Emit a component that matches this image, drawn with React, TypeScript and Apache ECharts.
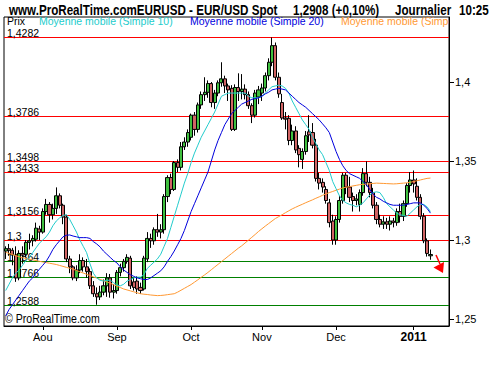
import React, { useEffect, useRef } from "react";
import * as echarts from "echarts";

const FONT = '"Liberation Sans", Arial, Helvetica, sans-serif';

// Trading days shown (weekdays), plus a few empty future slots at the right
const FIRST_DAY = "2010-07-16";
const LAST_SLOT = "2011-01-17";

const MONTH_LABELS: Record<string, string> = {
  "08": "Aou",
  "09": "Sep",
  "10": "Oct",
  "11": "Nov",
  "12": "Dec",
  "01": "2011",
};

// [open, close, low, high]
const CANDLES: number[][] = [
  [1.2930, 1.2945, 1.2880, 1.2960],
  [1.2945, 1.2935, 1.2900, 1.2975],
  [1.2935, 1.2905, 1.2840, 1.2950],
  [1.2905, 1.2760, 1.2735, 1.2960],
  [1.2760, 1.2915, 1.2745, 1.2935],
  [1.2915, 1.2905, 1.2850, 1.2960],
  [1.2910, 1.2985, 1.2890, 1.3000],
  [1.2985, 1.2995, 1.2940, 1.3040],
  [1.2995, 1.3010, 1.2960, 1.3030],
  [1.3005, 1.3075, 1.2990, 1.3110],
  [1.3070, 1.3050, 1.3000, 1.3090],
  [1.3050, 1.3180, 1.3040, 1.3200],
  [1.3180, 1.3225, 1.3160, 1.3260],
  [1.3225, 1.3160, 1.3110, 1.3240],
  [1.3160, 1.3200, 1.3130, 1.3230],
  [1.3200, 1.3280, 1.3165, 1.3333],
  [1.3280, 1.3220, 1.3200, 1.3295],
  [1.3220, 1.3145, 1.3100, 1.3230],
  [1.3145, 1.2880, 1.2860, 1.3160],
  [1.2880, 1.2830, 1.2790, 1.2900],
  [1.2830, 1.2760, 1.2745, 1.2840],
  [1.2760, 1.2810, 1.2740, 1.2840],
  [1.2810, 1.2870, 1.2790, 1.2910],
  [1.2870, 1.2830, 1.2800, 1.2890],
  [1.2830, 1.2800, 1.2760, 1.2880],
  [1.2800, 1.2710, 1.2690, 1.2820],
  [1.2710, 1.2660, 1.2640, 1.2740],
  [1.2660, 1.2640, 1.2590, 1.2700],
  [1.2640, 1.2670, 1.2620, 1.2710],
  [1.2670, 1.2710, 1.2650, 1.2750],
  [1.2710, 1.2760, 1.2640, 1.2790],
  [1.2760, 1.2670, 1.2635, 1.2785],
  [1.2670, 1.2680, 1.2630, 1.2720],
  [1.2680, 1.2795, 1.2660, 1.2810],
  [1.2795, 1.2825, 1.2770, 1.2850],
  [1.2825, 1.2865, 1.2800, 1.2880],
  [1.2865, 1.2890, 1.2850, 1.2910],
  [1.2885, 1.2710, 1.2690, 1.2900],
  [1.2735, 1.2700, 1.2680, 1.2760],
  [1.2740, 1.2690, 1.2660, 1.2770],
  [1.2700, 1.2680, 1.2660, 1.2730],
  [1.2690, 1.2885, 1.2680, 1.2900],
  [1.2880, 1.3010, 1.2860, 1.3050],
  [1.3010, 1.2995, 1.2950, 1.3040],
  [1.2995, 1.3065, 1.2970, 1.3080],
  [1.3065, 1.3050, 1.3020, 1.3165],
  [1.3050, 1.3065, 1.3010, 1.3100],
  [1.3065, 1.3275, 1.3040, 1.3290],
  [1.3275, 1.3395, 1.3240, 1.3410],
  [1.3395, 1.3320, 1.3290, 1.3420],
  [1.3320, 1.3490, 1.3310, 1.3500],
  [1.3490, 1.3460, 1.3430, 1.3510],
  [1.3460, 1.3590, 1.3440, 1.3620],
  [1.3590, 1.3620, 1.3570, 1.3650],
  [1.3620, 1.3680, 1.3590, 1.3700],
  [1.3650, 1.3790, 1.3630, 1.3800],
  [1.3790, 1.3700, 1.3660, 1.3810],
  [1.3700, 1.3855, 1.3680, 1.3870],
  [1.3855, 1.3920, 1.3830, 1.3940],
  [1.3920, 1.3935, 1.3880, 1.4030],
  [1.3935, 1.3990, 1.3900, 1.4010],
  [1.3990, 1.3870, 1.3840, 1.4000],
  [1.3870, 1.3930, 1.3830, 1.3950],
  [1.3930, 1.3995, 1.3910, 1.4010],
  [1.3995, 1.4020, 1.3970, 1.4125],
  [1.4020, 1.3975, 1.3930, 1.4040],
  [1.3975, 1.3950, 1.3880, 1.3990],
  [1.3960, 1.3700, 1.3690, 1.3980],
  [1.3700, 1.3965, 1.3690, 1.3985],
  [1.3965, 1.3940, 1.3880, 1.4055],
  [1.3940, 1.3955, 1.3890, 1.4050],
  [1.3955, 1.3920, 1.3890, 1.3985],
  [1.3920, 1.3850, 1.3830, 1.3940],
  [1.3850, 1.3790, 1.3740, 1.3865],
  [1.3790, 1.3930, 1.3775, 1.3950],
  [1.3905, 1.3950, 1.3860, 1.3975],
  [1.3930, 1.3962, 1.3880, 1.3990],
  [1.3962, 1.4040, 1.3940, 1.4060],
  [1.4040, 1.4125, 1.4010, 1.4150],
  [1.4125, 1.4230, 1.4100, 1.4282],
  [1.4230, 1.4030, 1.4010, 1.4250],
  [1.4030, 1.3925, 1.3900, 1.4060],
  [1.3870, 1.3772, 1.3760, 1.3925],
  [1.3772, 1.3765, 1.3700, 1.3810],
  [1.3770, 1.3630, 1.3600, 1.3790],
  [1.3630, 1.3690, 1.3600, 1.3730],
  [1.3690, 1.3570, 1.3550, 1.3720],
  [1.3580, 1.3540, 1.3460, 1.3600],
  [1.3510, 1.3560, 1.3450, 1.3580],
  [1.3560, 1.3660, 1.3540, 1.3690],
  [1.3685, 1.3665, 1.3620, 1.3790],
  [1.3680, 1.3600, 1.3580, 1.3740],
  [1.3600, 1.3390, 1.3370, 1.3640],
  [1.3390, 1.3360, 1.3320, 1.3425],
  [1.3365, 1.3335, 1.3300, 1.3390],
  [1.3320, 1.3250, 1.3230, 1.3340],
  [1.3235, 1.3110, 1.3080, 1.3260],
  [1.3120, 1.3000, 1.2970, 1.3160],
  [1.3000, 1.3130, 1.2970, 1.3150],
  [1.3130, 1.3250, 1.3110, 1.3280],
  [1.3250, 1.3410, 1.3230, 1.3425],
  [1.3410, 1.3335, 1.3290, 1.3425],
  [1.3335, 1.3270, 1.3240, 1.3400],
  [1.3275, 1.3250, 1.3180, 1.3300],
  [1.3250, 1.3260, 1.3220, 1.3290],
  [1.3225, 1.3300, 1.3180, 1.3320],
  [1.3300, 1.3420, 1.3280, 1.3455],
  [1.3420, 1.3365, 1.3340, 1.3498],
  [1.3365, 1.3300, 1.3270, 1.3400],
  [1.3300, 1.3220, 1.3200, 1.3330],
  [1.3220, 1.3130, 1.3100, 1.3240],
  [1.3130, 1.3100, 1.3080, 1.3160],
  [1.3100, 1.3115, 1.3070, 1.3150],
  [1.3115, 1.3100, 1.3070, 1.3140],
  [1.3100, 1.3120, 1.3060, 1.3150],
  [1.3120, 1.3110, 1.3080, 1.3140],
  [1.3110, 1.3180, 1.3090, 1.3200],
  [1.3180, 1.3150, 1.3110, 1.3230],
  [1.3150, 1.3230, 1.3120, 1.3250],
  [1.3230, 1.3345, 1.3210, 1.3360],
  [1.3345, 1.3380, 1.3300, 1.3430],
  [1.3380, 1.3355, 1.3300, 1.3440],
  [1.3340, 1.3270, 1.3250, 1.3390],
  [1.3270, 1.3150, 1.3130, 1.3290],
  [1.3150, 1.2995, 1.2980, 1.3170],
  [1.2995, 1.2915, 1.2895, 1.3010],
  [1.2900, 1.2908, 1.2875, 1.2940],
];

const MA10: number[] = [
  1.268, 1.272, 1.276, 1.279, 1.281, 1.284, 1.287, 1.289, 1.292, 1.295,
  1.298, 1.300, 1.302, 1.305, 1.309, 1.312, 1.314, 1.3155, 1.316, 1.313,
  1.309, 1.305, 1.300, 1.296, 1.292, 1.285, 1.279, 1.276, 1.2745, 1.274,
  1.2745, 1.2745, 1.273, 1.2715, 1.271, 1.272, 1.274, 1.275, 1.276, 1.2765,
  1.2765, 1.278, 1.282, 1.284, 1.286, 1.288, 1.291, 1.296, 1.301, 1.308,
  1.315, 1.322, 1.329, 1.336, 1.342, 1.349, 1.355, 1.360, 1.365, 1.369,
  1.373, 1.377, 1.381, 1.386, 1.391, 1.392, 1.393, 1.393, 1.393, 1.393,
  1.393, 1.393, 1.391, 1.390, 1.390, 1.390, 1.391, 1.393, 1.395, 1.397,
  1.3975, 1.398, 1.3975, 1.396, 1.393, 1.388, 1.384, 1.380, 1.376, 1.373,
  1.370, 1.365, 1.361, 1.357, 1.354, 1.349, 1.344, 1.337, 1.3325, 1.328,
  1.325, 1.3235, 1.3225, 1.322, 1.321, 1.322, 1.3235, 1.326, 1.3285, 1.330,
  1.3305, 1.330, 1.327, 1.323, 1.321, 1.319, 1.317, 1.316, 1.3155, 1.315,
  1.317, 1.319, 1.321, 1.3225, 1.3225, 1.321, 1.318,
];

const MA20: number[] = [
  1.252, 1.256, 1.259, 1.262, 1.265, 1.268, 1.271, 1.274, 1.276, 1.279,
  1.2815, 1.284, 1.2865, 1.290, 1.294, 1.297, 1.2995, 1.302, 1.303, 1.3032,
  1.3025, 1.302, 1.3015, 1.3015, 1.3015, 1.301, 1.299, 1.2975, 1.2956, 1.293,
  1.291, 1.289, 1.287, 1.2855, 1.283, 1.281, 1.2795, 1.278, 1.277, 1.276,
  1.2755, 1.275, 1.275, 1.276, 1.2775, 1.279, 1.2805, 1.283, 1.2865, 1.2895,
  1.293, 1.297, 1.301, 1.306, 1.312, 1.318, 1.323, 1.328, 1.333, 1.338,
  1.343, 1.350, 1.357, 1.363, 1.368, 1.373, 1.3765, 1.380, 1.382, 1.384,
  1.386, 1.387, 1.388, 1.389, 1.3895, 1.390, 1.391, 1.3925, 1.3935, 1.395,
  1.3955, 1.396, 1.3955, 1.395, 1.393, 1.391, 1.389, 1.387, 1.3855, 1.384,
  1.382, 1.380, 1.378, 1.376, 1.3735, 1.371, 1.368, 1.362, 1.356, 1.351,
  1.347, 1.344, 1.342, 1.341, 1.340, 1.339, 1.337, 1.335, 1.332, 1.329,
  1.327, 1.326, 1.3245, 1.3235, 1.3225, 1.322, 1.322, 1.322, 1.322, 1.3225,
  1.323, 1.3235, 1.3235, 1.3235, 1.322, 1.320, 1.317,
];

const MA_LONG: number[] = [
  1.2922, 1.2915, 1.2908, 1.2901, 1.2894, 1.2888, 1.2883, 1.2879, 1.2874, 1.2870,
  1.2865, 1.2861, 1.2857, 1.2853, 1.2849, 1.2845, 1.2839, 1.2833, 1.2827, 1.2821,
  1.2815, 1.2807, 1.2799, 1.2791, 1.2783, 1.2775, 1.2767, 1.2759, 1.2751, 1.2743,
  1.2735, 1.2726, 1.2717, 1.2708, 1.2699, 1.2690, 1.2684, 1.2678, 1.2672, 1.2666,
  1.2660, 1.2657, 1.2655, 1.2652, 1.2650, 1.2648, 1.2649, 1.2651, 1.2654, 1.2657,
  1.2660, 1.2670, 1.2682, 1.2694, 1.2706, 1.2718, 1.2733, 1.2748, 1.2764, 1.2779,
  1.2795, 1.2812, 1.2829, 1.2846, 1.2863, 1.2880, 1.2897, 1.2914, 1.2931, 1.2948,
  1.2963, 1.2981, 1.2999, 1.3017, 1.3035, 1.3054, 1.3071, 1.3088, 1.3104, 1.3120,
  1.3136, 1.3148, 1.3160, 1.3173, 1.3185, 1.3197, 1.3207, 1.3217, 1.3226, 1.3236,
  1.3245, 1.3254, 1.3264, 1.3273, 1.3283, 1.3292, 1.3300, 1.3307, 1.3315, 1.3322,
  1.3330, 1.3334, 1.3338, 1.3342, 1.3346, 1.3350, 1.3352, 1.3354, 1.3356, 1.3358,
  1.3360, 1.3359, 1.3358, 1.3357, 1.3356, 1.3355, 1.3356, 1.3358, 1.3360, 1.3362,
  1.3365, 1.3370, 1.3375, 1.3380, 1.3385, 1.3390, 1.3392,
];

const RESISTANCES: number[] = [1.4282, 1.3786, 1.3498, 1.3433, 1.3156, 1.3];
const SUPPORTS: number[] = [1.2864, 1.2766, 1.2588];
const Y_TICKS: number[] = [1.25, 1.3, 1.35, 1.4];
const Y_MIN = 1.24557;
const Y_MAX = 1.44114;

const RED = "#ff0000";
const GREEN = "#008000";
const CYAN = "#22cccc";
const BLUE = "#0000dd";
const ORANGE = "#ff9933";

const fmt = (v: number) => String(v).replace(".", ",");

function weekdays(start: string, end: string): string[] {
  const out: string[] = [];
  const d = new Date(start + "T00:00:00Z");
  const e = new Date(end + "T00:00:00Z");
  while (d.getTime() <= e.getTime()) {
    const wd = d.getUTCDay();
    if (wd !== 0 && wd !== 6) out.push(d.toISOString().slice(0, 10));
    d.setUTCDate(d.getUTCDate() + 1);
  }
  return out;
}

export default function App() {
  const ref = useRef<HTMLDivElement>(null);

  useEffect(() => {
    if (!ref.current) return;
    const chart = echarts.init(ref.current, null, { renderer: "svg" });
    const dates = weekdays(FIRST_DAY, LAST_SLOT);
    const isMonthStart = (i: number) =>
      i > 0 && dates[i].slice(5, 7) !== dates[i - 1].slice(5, 7);

    const levelData = [
      ...RESISTANCES.map((v) => [0, v, 0]),
      ...SUPPORTS.map((v) => [0, v, 1]),
    ];

    const headerText = (text: string, x: number) => ({
      type: "text",
      x,
      y: 10,
      scaleX: 0.83,
      style: {
        text,
        fill: "#000",
        fontSize: 14,
        fontWeight: "bold",
        fontFamily: FONT,
        verticalAlign: "middle",
      },
    });

    const legendText = (text: string, x: number, color: string, extra: any = {}) => ({
      type: "text",
      x,
      y: 21,
      style: {
        text,
        fill: color,
        fontSize: 10.5,
        fontFamily: FONT,
        verticalAlign: "middle",
        lineHeight: 10,
        ...extra,
      },
    });

    const option: any = {
      animation: false,
      grid: {
        left: 4,
        right: 51,
        top: 17,
        bottom: 44,
        show: true,
        borderColor: "#000",
        borderWidth: 1,
        backgroundColor: "#fff",
      },
      xAxis: {
        type: "category",
        data: dates,
        boundaryGap: true,
        axisLine: { show: true, lineStyle: { color: "#000", width: 1 } },
        axisTick: {
          show: true,
          alignWithLabel: true,
          length: 4,
          lineStyle: { color: "#000" },
          interval: (i: number) => isMonthStart(i),
        },
        axisLabel: {
          interval: (i: number) => isMonthStart(i),
          margin: 5,
          color: "#000",
          fontSize: 11,
          fontFamily: FONT,
          formatter: (v: string) => {
            const m = MONTH_LABELS[v.slice(5, 7)] || "";
            return m === "2011" ? "{b|" + m + "}" : m;
          },
          rich: {
            b: { fontWeight: "bold", fontSize: 12, fontFamily: FONT, color: "#000" },
          },
        },
        splitLine: { show: false },
      },
      yAxis: {
        type: "value",
        position: "right",
        min: Y_MIN,
        max: Y_MAX,
        axisLine: { show: true, lineStyle: { color: "#000", width: 1 } },
        axisTick: {
          show: true,
          length: 5,
          lineStyle: { color: "#000" },
          customValues: Y_TICKS,
        },
        axisLabel: {
          customValues: Y_TICKS,
          margin: 6,
          color: "#000",
          fontSize: 11,
          fontFamily: FONT,
          formatter: (v: number) => fmt(v),
        },
        splitLine: { show: false },
      },
      series: [
        {
          name: "levels",
          type: "custom",
          z: 1,
          silent: true,
          data: levelData,
          encode: { x: 0, y: 1 },
          renderItem: (params: any, api: any) => {
            const v = api.value(1);
            const kind = api.value(2);
            const cs = params.coordSys;
            const y = Math.round(api.coord([0, v])[1]) + 0.5;
            return {
              type: "group",
              children: [
                {
                  type: "line",
                  shape: { x1: cs.x, y1: y, x2: cs.x + cs.width, y2: y },
                  style: { stroke: kind === 0 ? RED : GREEN, lineWidth: 1 },
                },
                {
                  type: "text",
                  x: cs.x + 3,
                  y: y + 0.5,
                  style: {
                    text: fmt(v),
                    fill: "#000",
                    fontSize: 10.5,
                    fontFamily: FONT,
                    verticalAlign: "bottom",
                    lineHeight: 10,
                  },
                },
              ],
            };
          },
        },
        {
          name: "EURUSD",
          type: "candlestick",
          data: CANDLES,
          z: 3,
          barWidth: 3.6,
          itemStyle: {
            color: "#3fbf3f",
            color0: "#d06464",
            borderColor: "#000",
            borderColor0: "#000",
            borderWidth: 1,
          },
        },
        {
          name: "MA long",
          type: "line",
          data: MA_LONG,
          z: 4,
          showSymbol: false,
          symbol: "none",
          lineStyle: { color: ORANGE, width: 1 },
        },
        {
          name: "MA10",
          type: "line",
          data: MA10,
          z: 5,
          showSymbol: false,
          symbol: "none",
          lineStyle: { color: CYAN, width: 1 },
        },
        {
          name: "MA20",
          type: "line",
          data: MA20,
          z: 6,
          showSymbol: false,
          symbol: "none",
          lineStyle: { color: BLUE, width: 1 },
        },
      ],
      graphic: [
        headerText("www.ProRealTime.comEURUSD - EUR/USD Spot", 9),
        headerText("1,2908 (+0,10%)", 293),
        headerText("Journalier", 395),
        headerText("10:25", 459),
        legendText("Prix", 7, "#000"),
        legendText("Moyenne mobile (Simple 10)", 39, CYAN),
        legendText("Moyenne mobile (Simple 20)", 190, BLUE),
        legendText("Moyenne mobile (Simple 50)", 341, ORANGE, {
          width: 110,
          overflow: "truncate",
          ellipsis: "",
        }),
        {
          type: "text",
          x: 5,
          y: 319,
          scaleX: 0.88,
          style: {
            text: "© ProRealTime.com",
            fill: "#000",
            fontSize: 12,
            fontFamily: FONT,
            verticalAlign: "middle",
          },
        },
        {
          type: "line",
          shape: { x1: 436, y1: 255, x2: 440, y2: 264 },
          style: { stroke: RED, lineWidth: 1.5 },
          z: 100,
        },
        {
          type: "polygon",
          shape: { points: [[443, 273], [444, 262], [433.5, 267.5]] },
          style: { fill: RED },
          z: 100,
        },
      ],
    };

    chart.setOption(option);
    return () => chart.dispose();
  }, []);

  return (
    <div
      ref={ref}
      style={{ position: "fixed", left: 0, top: 0, width: 500, height: 370, background: "#fff" }}
    />
  );
}
